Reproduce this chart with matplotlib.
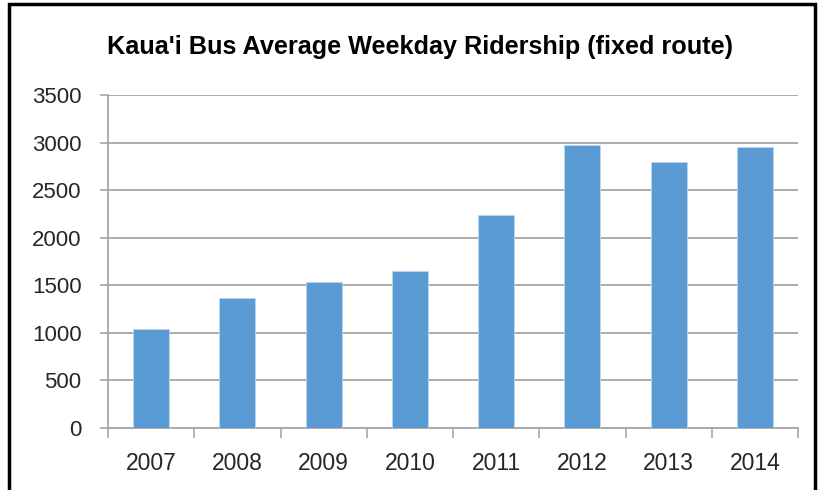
import matplotlib
matplotlib.use("Agg")
import matplotlib.pyplot as plt
from matplotlib.patches import Rectangle

years = ["2007", "2008", "2009", "2010", "2011", "2012", "2013", "2014"]
riders = [1040, 1362, 1537, 1646, 2237, 2976, 2791, 2952]
yticks = [0, 500, 1000, 1500, 2000, 2500, 3000, 3500]
title = "Kaua'i Bus Average Weekday Ridership (fixed route)"

plt.rcParams['font.family'] = ['Liberation Sans', 'DejaVu Sans']

W, H = 818, 490
fig = plt.figure(figsize=(W / 100, H / 100), dpi=100)
ax = fig.add_axes([108 / W, 1 - 428 / H, (798 - 108) / W, (428 - 95) / H])

grid_c = "#A6A6A6"
x = list(range(len(years)))
ax.bar(x, riders, width=0.42, color="#5B9BD5", edgecolor="#BDD7EE", linewidth=0.6, zorder=3)

ax.set_xlim(-0.5, len(years) - 0.5)
ax.set_ylim(0, 3500)
ax.set_yticks(yticks)
ax.set_yticklabels([str(v) for v in yticks], fontsize=16, color="#262626")
ax.set_xticks(x)
ax.set_xticklabels(years, fontsize=16.5, color="#262626")
ax.tick_params(axis="x", length=0, pad=17)
ax.tick_params(axis="y", length=6, width=1.2, color=grid_c, pad=13)

# category boundary ticks on x axis
ax.set_xticks([i - 0.5 for i in range(len(years) + 1)], minor=True)
ax.tick_params(axis="x", which="minor", length=7, width=1.2, color=grid_c, direction="out")

ax.yaxis.grid(True, color=grid_c, linewidth=1.3, zorder=0)
ax.set_axisbelow(True)
for s in ["top", "right"]:
    ax.spines[s].set_visible(False)
for s in ["left", "bottom"]:
    ax.spines[s].set_color(grid_c)
    ax.spines[s].set_linewidth(1.3)

fig.text(420 / W, 1 - 47 / H, title, ha="center", va="center", fontsize=18.2,
         fontweight="bold", color="#000000")

fig.patches.append(Rectangle((9 / W, -0.2), (815 - 9) / W, 1.2 - 4 / H,
                             transform=fig.transFigure, fill=False,
                             edgecolor="black", linewidth=2.5))

fig.savefig("out.png", dpi=100)
